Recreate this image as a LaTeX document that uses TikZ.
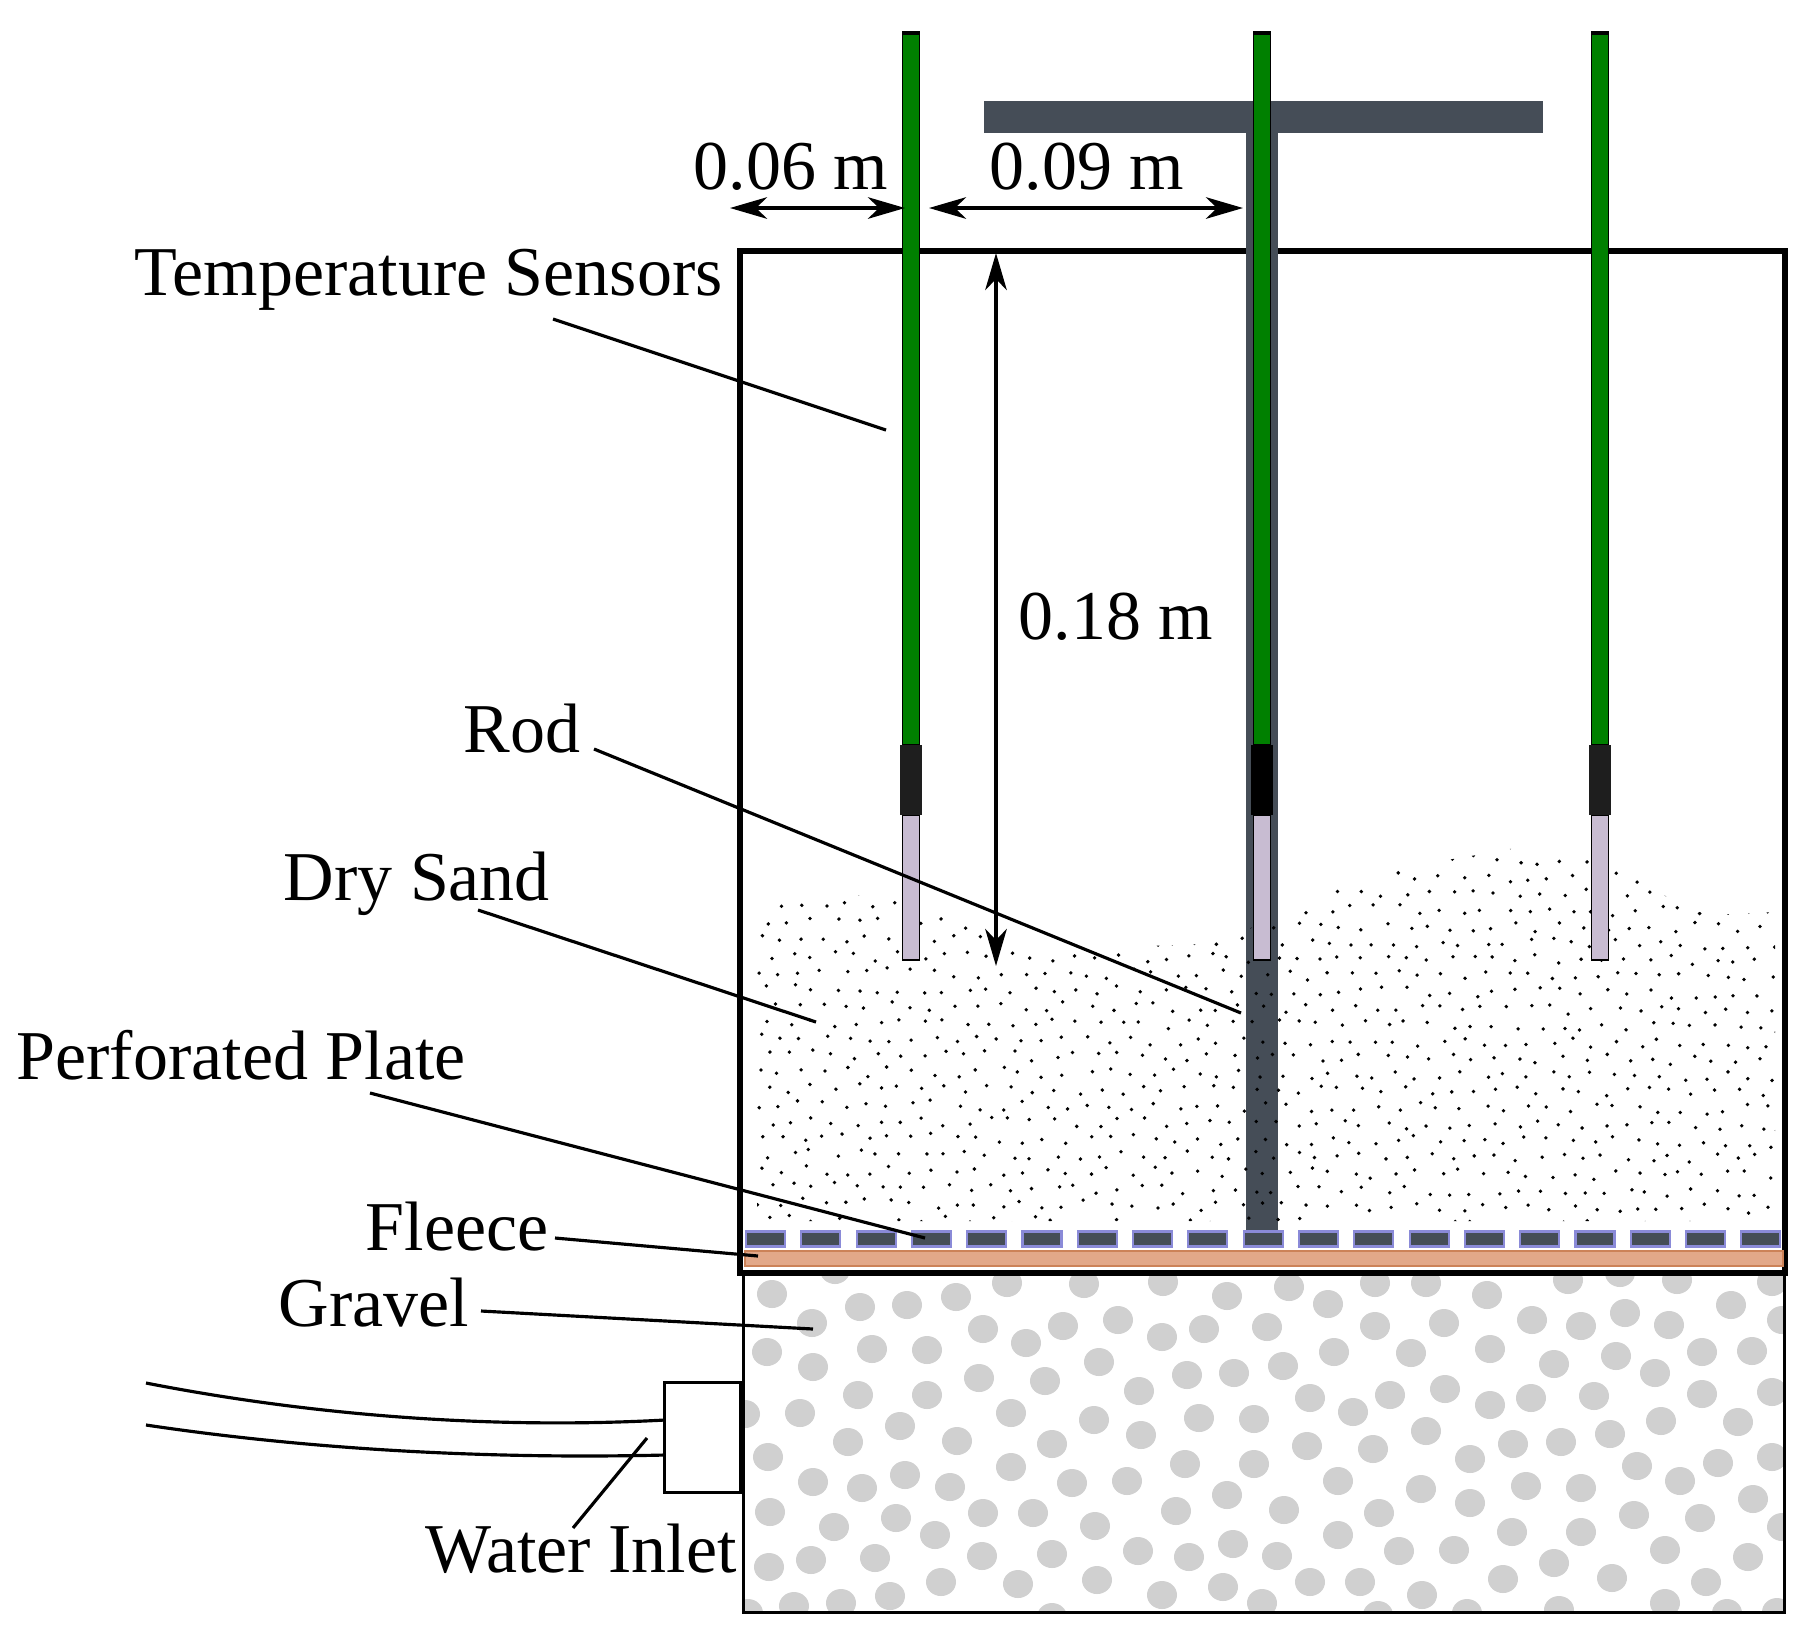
\documentclass[tikz,border=0pt]{standalone}
\usepackage{fontspec}
\setmainfont{Liberation Serif}
\usetikzlibrary{arrows.meta,calc}
\definecolor{rodgrey}{HTML}{454D57}
\definecolor{sensorgreen}{HTML}{008000}
\definecolor{tiplilac}{HTML}{C8BCD2}
\definecolor{capdark}{HTML}{1E1E1E}
\definecolor{gravelgrey}{HTML}{D0D0D0}
\definecolor{fleecefill}{HTML}{E2A889}
\definecolor{fleeceedge}{HTML}{CC8258}
\definecolor{plateedge}{HTML}{8A8AD8}
\begin{document}
\begin{tikzpicture}[x=0.01cm,y=-0.01cm,
		lbl/.style={inner sep=0pt,anchor=base west,font=\fontsize{19.9}{24}\selectfont},
		leader/.style={line width=0.9pt},
		dimline/.style={line width=1.15pt,{Stealth[length=0.37cm,width=0.215cm,inset=0.11cm]}-{Stealth[length=0.37cm,width=0.215cm,inset=0.11cm]}},
		sensorbox/.style={draw=black,line width=0.5pt},
		platebar/.style={fill=rodgrey,draw=plateedge,line width=0.6pt}]
	\useasboundingbox (0,0) rectangle (1805,1638);
	\begin{scope}
		\clip (743,1273) rectangle (1784,1612);
		\foreach \gx/\gy in {835/1270,772/1294,860/1307,907/1305,956/1297,1007/1283,1084/1284,812/1323,983/1329,1063/1326,
			1118/1320,1026/1343,767/1352,872/1349,927/1350,813/1367,1099/1362,979/1378,1045/1381,858/1395,
			927/1395,1139/1391,745/1414,800/1413,1011/1413,900/1426,1094/1420,848/1442,957/1441,1052/1444,
			1141/1435,768/1457,1011/1467,905/1475,813/1482,862/1488,950/1487,1072/1483,1127/1481,770/1512,
			983/1513,1033/1513,896/1518,834/1527,1095/1526,935/1535,1138/1551,769/1567,811/1560,875/1558,
			982/1556,1052/1554,941/1582,1018/1584,1097/1580,794/1606,841/1603,890/1596,1052/1617,748/1613,
			1163/1282,1227/1296,1289/1287,1328/1304,1375/1283,1426/1283,1162/1337,1204/1329,1267/1327,1375/1326,
			1444/1323,1334/1352,1411/1353,1187/1375,1234/1373,1283/1366,1310/1398,1390/1395,1445/1389,1353/1412,
			1199/1418,1254/1419,1426/1431,1307/1446,1373/1449,1185/1464,1254/1464,1338/1481,1421/1489,1227/1495,
			1176/1511,1284/1510,1379/1513,1338/1535,1233/1544,1399/1551,1454/1550,1189/1557,1277/1556,1310/1582,
			1360/1582,1162/1595,1223/1587,1422/1595,1262/1603,1467/1613,1378/1615,
			1487/1295,1568/1280,1677/1280,1772/1282,1620/1273,1532/1320,1581/1326,1625/1313,1669/1325,1731/1305,
			1782/1320,1490/1349,1554/1364,1616/1356,1655/1373,1702/1352,1752/1351,1490/1405,1531/1398,1594/1396,
			1702/1394,1772/1392,1661/1421,1738/1422,1513/1444,1561/1442,1610/1434,1470/1459,1637/1466,1680/1481,
			1718/1463,1772/1457,1526/1486,1581/1488,1470/1503,1753/1499,1634/1515,1700/1518,1512/1532,1581/1532,
			1665/1550,1748/1557,1782/1527,1554/1563,1612/1578,1503/1579,1706/1582,1665/1603,1559/1610,1727/1613,1777/1612}
			\fill[gravelgrey] (\gx,\gy) circle[x radius=0.15cm,y radius=0.14cm];
	\end{scope}
	\draw[line width=0.85pt] (743,1273) rectangle (1784,1612);
	\draw[line width=1.55pt] (740,251) rectangle (1785,1273);
	\fill[rodgrey] (984,101) rectangle (1543,133);
	\fill[rodgrey] (1246,133) rectangle (1278,1240);
	\begin{scope}
		\clip plot[smooth] coordinates {(757,912) (790,900) (829,893) (856,895) (923,906) (962,921) (1018,947) (1055,952) (1102,952) (1145,946) (1197,944) (1248,929) (1295,908) (1351,882) (1426,864) (1495,852) (1522,848) (1568,855) (1609,867) (1654,886) (1676,905) (1714,914) (1775,912)} -- (1775,1221) -- (757,1221) -- cycle;
		\pgfmathsetseed{11}
		\foreach \r in {0,...,23}
			\foreach \c in {0,...,46} {
				\pgfmathsetmacro{\dx}{758+22*\c+11*mod(\r,2)+5*rand}
				\pgfmathsetmacro{\dy}{840+16.5*\r+0.12*\c+5*rand}
				\fill (\dx,\dy) circle[radius=0.54pt];
			}
	\end{scope}
	\foreach \sx/\capc in {911/capdark,1262/black,1600/capdark} {
		\fill[black] (\sx-9,31) rectangle (\sx+9,36);
		\draw[sensorbox,fill=sensorgreen] (\sx-8.5,34) rectangle (\sx+8.5,745);
		\draw[sensorbox,fill=tiplilac] (\sx-8.5,815) rectangle (\sx+8.5,960);
		\fill[\capc] (\sx-11,745) rectangle (\sx+11,815);
	}
	\foreach \i in {0,...,18}
		\draw[platebar] ({746+55.3*\i},1231.5) rectangle ++(39,15);
	\draw[fill=fleecefill,draw=fleeceedge,line width=0.5pt] (745,1251) rectangle (1783,1266);
	\node(inlet)[draw,fill=white,line width=0.85pt,inner sep=0pt,outer sep=0pt,minimum width=0.75cm,minimum height=1.09cm] at (702.5,1437.5) {};
	\coordinate (pipea) at (146,1383);
	\coordinate (pipeb) at (146,1425);
	\draw[leader] (pipea) .. controls (320,1417) and (500,1429) .. ($(inlet.west)+(0,-17.5)$);
	\draw[leader] (pipeb) .. controls (320,1451) and (500,1459) .. ($(inlet.west)+(0,17.5)$);
	\coordinate (da) at (730,208);
	\coordinate (db) at (905,208);
	\coordinate (dc) at (929,208);
	\coordinate (dd) at (1243,208);
	\coordinate (de) at (996,253);
	\coordinate (df) at (996,966);
	\draw[dimline] (da) -- (db);
	\draw[dimline] (dc) -- (dd);
	\draw[dimline] (de) -- (df);
	\node(wa)[lbl] at (693,189) {0.06 m};
	\node(wb)[lbl] at (989,189) {0.09 m};
	\node(hc)[lbl] at (1018,639) {0.18 m};
	\node(ltemp)[lbl] at (134,295) {Temperature Sensors};
	\node(lrod)[lbl] at (463,752) {Rod};
	\node(lsand)[lbl] at (283,900) {Dry Sand};
	\node(lplate)[lbl] at (16,1079) {Perforated Plate};
	\node(lfleece)[lbl] at (365,1250) {Fleece};
	\node(lgravel)[lbl] at (278,1326) {Gravel};
	\node(lwater)[lbl] at (425,1572) {Water Inlet};
	\coordinate (ptemp) at (886,430);
	\coordinate (prod) at (1241,1013);
	\coordinate (psand) at (816,1022);
	\coordinate (pplate) at (925,1238);
	\coordinate (pfleece) at (758,1256);
	\coordinate (pgravel) at (813,1329);
	\coordinate (pwater) at (647,1438);
	\draw[leader] (ltemp.base west) ++(419,24) -- (ptemp);
	\draw[leader] (lrod.base west) ++(131,-3) -- (prod);
	\draw[leader] (lsand.base west) ++(195,10) -- (psand);
	\draw[leader] (lplate.base west) ++(354,14) -- (pplate);
	\draw[leader] (lfleece.base west) ++(190,-12) -- (pfleece);
	\draw[leader] (lgravel.base west) ++(203,-15) -- (pgravel);
	\draw[leader] (lwater.base west) ++(148,-44) -- (pwater);
\end{tikzpicture}
\end{document}
